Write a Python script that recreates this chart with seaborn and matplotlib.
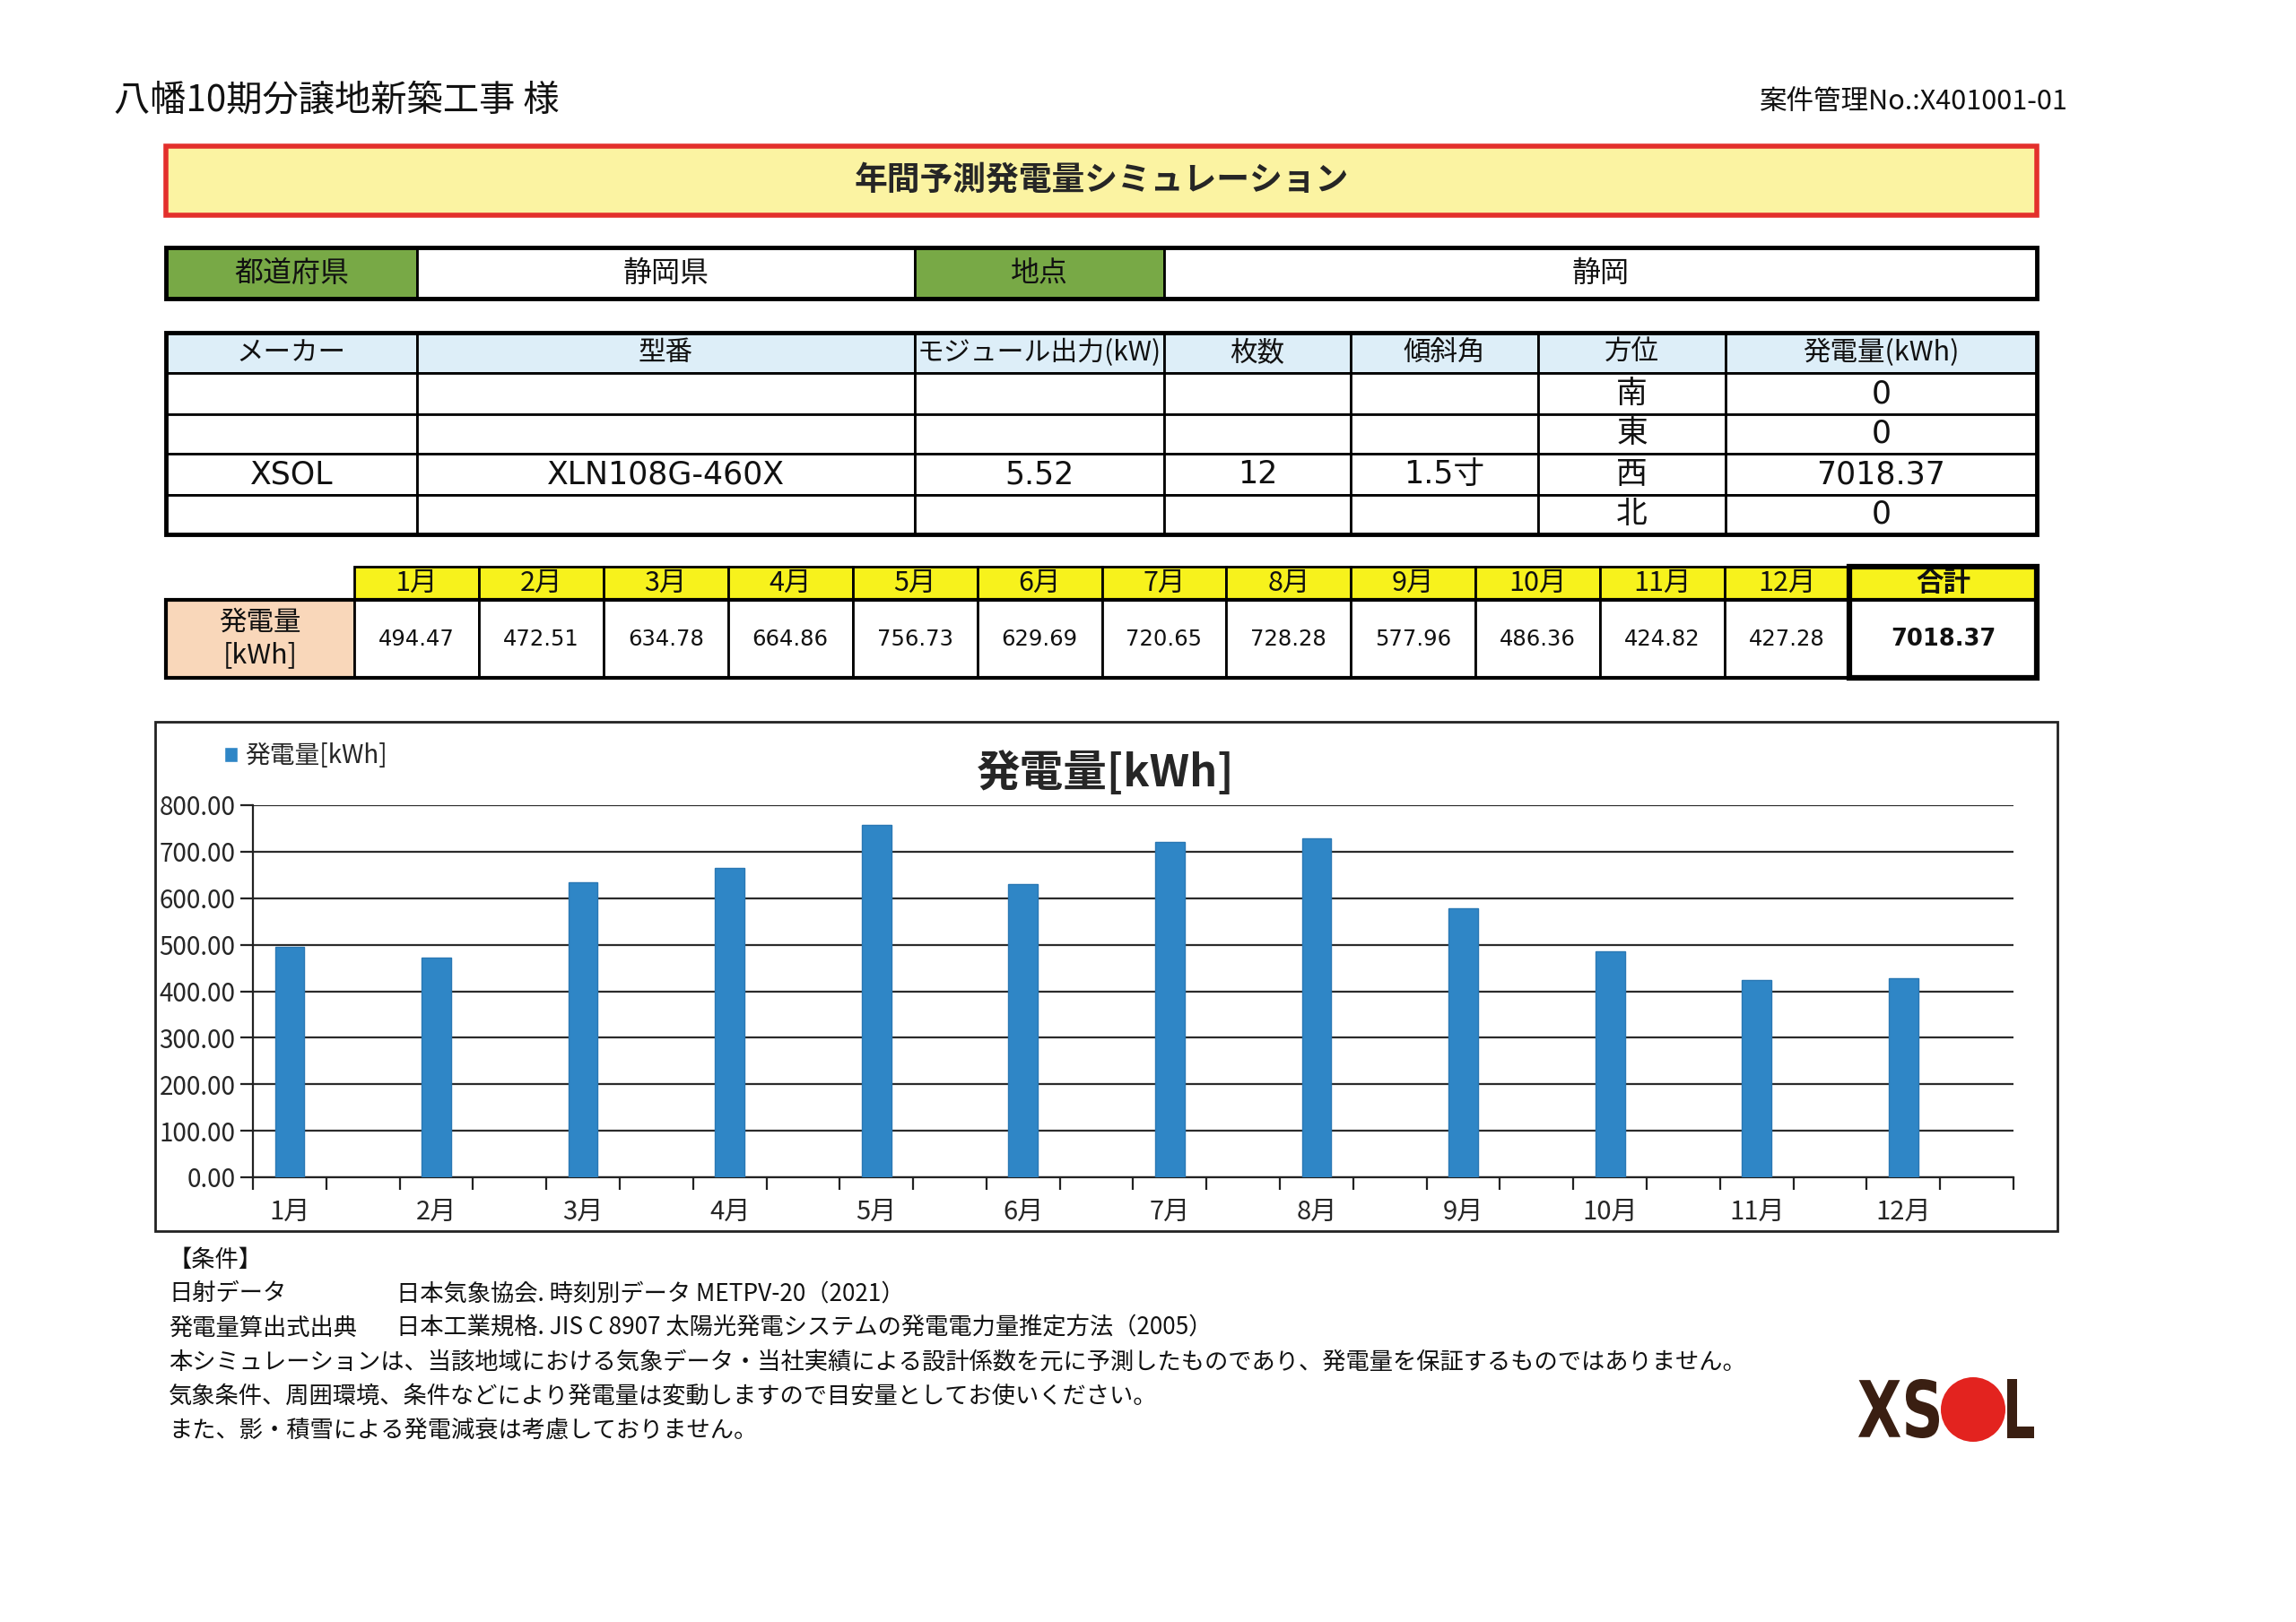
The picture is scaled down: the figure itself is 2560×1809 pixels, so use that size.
import matplotlib.pyplot as plt
import seaborn as sns
import numpy as np
from matplotlib.patches import Rectangle, Patch, PathPatch, Circle
from matplotlib.textpath import TextPath
from matplotlib.font_manager import FontProperties
from matplotlib.transforms import Affine2D

# ---- data ----
client = "八幡10期分譲地新築工事 様"
case_no = "案件管理No.:X401001-01"
sheet_title = "年間予測発電量シミュレーション"
prefecture = "静岡県"
location = "静岡"
module_cols = ["メーカー", "型番", "モジュール出力(kW)", "枚数", "傾斜角", "方位", "発電量(kWh)"]
maker = "XSOL"
model = "XLN108G-460X"
module_kw = "5.52"
panels = "12"
tilt = "1.5寸"
azimuths = ["南", "東", "西", "北"]
azimuth_kwh = ["0", "0", "7018.37", "0"]
months = ["1月", "2月", "3月", "4月", "5月", "6月", "7月", "8月", "9月", "10月", "11月", "12月"]
generation = [494.47, 472.51, 634.78, 664.86, 756.73, 629.69, 720.65, 728.28, 577.96, 486.36, 424.82, 427.28]
total = 7018.37
yticks = [0, 100, 200, 300, 400, 500, 600, 700, 800]
notes_head = "【条件】"
notes_pairs = [("日射データ", "日本気象協会. 時刻別データ METPV-20（2021）"),
               ("発電量算出式出典", "日本工業規格. JIS C 8907 太陽光発電システムの発電電力量推定方法（2005）")]
notes_lines = ["本シミュレーションは、当該地域における気象データ・当社実績による設計係数を元に予測したものであり、発電量を保証するものではありません。",
               "気象条件、周囲環境、条件などにより発電量は変動しますので目安量としてお使いください。",
               "また、影・積雪による発電減衰は考慮しておりません。"]

sns.set_theme(style="white")
plt.rcParams["font.family"] = ["Noto Sans CJK JP", "DejaVu Sans"]
LATIN = ["DejaVu Sans", "Noto Sans CJK JP"]

W, H = 2560, 1809
fig = plt.figure(figsize=(W / 100, H / 100), dpi=100)
fig.patch.set_facecolor("white")

page = fig.add_axes([0, 0, 1, 1])
page.set_xlim(0, W)
page.set_ylim(H, 0)
page.axis("off")


def cell(x0, x1, y0, y1, fill="white", text="", size=21, weight="normal", lw=2, family=None):
    page.add_patch(Rectangle((x0, y0), x1 - x0, y1 - y0, facecolor=fill,
                             edgecolor="black", lw=lw, zorder=1))
    if text:
        kw = {"family": family} if family else {}
        page.text((x0 + x1) / 2, (y0 + y1) / 2, text, ha="center", va="center",
                  fontsize=size, fontweight=weight, color="#111111", zorder=3, **kw)


# header
page.text(127, 112, client, fontsize=29, va="center", ha="left", color="#111111")
page.text(2306, 114, case_no, fontsize=22, va="center", ha="right", color="#111111")

# title banner
page.add_patch(Rectangle((185, 163), 2271 - 185, 240 - 163, facecolor="#FBF3A2",
                         edgecolor="#E3302C", lw=4))
page.text(1228, 201, sheet_title, fontsize=26.5, fontweight="bold", ha="center", va="center")

# prefecture / location row
green = "#78A946"
pref_cols = [185, 465, 1020, 1298, 2271]
pref_vals = ["都道府県", prefecture, "地点", location]
for i, t in enumerate(pref_vals):
    cell(pref_cols[i], pref_cols[i + 1], 276, 333,
         fill=green if i % 2 == 0 else "white", text=t, size=23)
page.add_patch(Rectangle((185, 276), 2271 - 185, 333 - 276, fill=False, edgecolor="black", lw=3.5, zorder=4))

# module table
mcols = [185, 465, 1020, 1298, 1506, 1715, 1924, 2271]
mrows = [371, 416, 462, 506, 552, 596]
for j, t in enumerate(module_cols):
    cell(mcols[j], mcols[j + 1], mrows[0], mrows[1], fill="#DDEEF8", text=t,
         size=21.5 if j == 2 else 22)
for r in range(4):
    vals = ["", "", "", "", "", azimuths[r], azimuth_kwh[r]]
    if r == 2:
        vals = [maker, model, module_kw, panels, tilt, azimuths[r], azimuth_kwh[r]]
    for j, t in enumerate(vals):
        if j == 5:
            cell(mcols[j], mcols[j + 1], mrows[r + 1], mrows[r + 2], text=t, size=25)
        else:
            cell(mcols[j], mcols[j + 1], mrows[r + 1], mrows[r + 2], text=t, size=25, family=LATIN)
page.add_patch(Rectangle((185, 371), 2271 - 185, 596 - 371, fill=False, edgecolor="black", lw=3.5, zorder=4))

# monthly table
edges = np.linspace(395, 2062, len(months) + 1)
cell(185, 395, 669, 756, fill="#F9D7BA", text="発電量\n[kWh]", size=22)
for i, m in enumerate(months):
    cell(edges[i], edges[i + 1], 632, 669, fill="#F7F21C", text=m, size=22)
    cell(edges[i], edges[i + 1], 669, 756, text=f"{generation[i]:.2f}", size=17.5, family=LATIN)
cell(2062, 2271, 632, 669, fill="#F7F21C", text="合計", size=22, weight="bold")
cell(2062, 2271, 669, 756, text=f"{total:.2f}", size=18.5, weight="bold", family=LATIN)
page.add_patch(Rectangle((2062, 632), 2271 - 2062, 756 - 632, fill=False, edgecolor="black", lw=4.5, zorder=4))
page.add_patch(Rectangle((185, 669), 2271 - 185, 756 - 669, fill=False, edgecolor="black", lw=3, zorder=4))

# chart frame
page.add_patch(Rectangle((173, 805), 2294 - 173, 1373 - 805, fill=False, edgecolor="#222222", lw=2))
page.text(1233, 862, "発電量[kWh]", fontsize=35, fontweight="bold", ha="center", va="center")

# bar chart
px0, px1, py0, py1 = 282, 2245, 898, 1313
ax = fig.add_axes([px0 / W, 1 - py1 / H, (px1 - px0) / W, (py1 - py0) / H])
bar_color = "#2F86C6"
sns.barplot(x=months, y=generation, color=bar_color, width=0.2, ax=ax,
            edgecolor="#2A78B4", linewidth=1, saturation=1, zorder=3)
ax.set_facecolor("none")
ax.set_xlim(-0.25, len(months) - 0.25)
ax.set_ylim(0, 800)
ax.set_yticks(yticks)
ax.set_yticklabels([f"{v:.2f}" for v in yticks], fontsize=20)
ax.yaxis.grid(True, color="#2b2b2b", lw=1.6, zorder=0)
ax.set_axisbelow(True)
ax.set_xticks(np.arange(-0.25, len(months) - 0.2, 0.5))
ax.set_xticklabels([])
ax.set_xticks(np.arange(len(months)), minor=True)
ax.set_xticklabels(months, minor=True, fontsize=21)
ax.tick_params(axis="x", which="major", direction="out", length=10, width=1.6, color="#222222", bottom=True)
ax.tick_params(axis="x", which="minor", length=0, pad=17)
ax.tick_params(axis="y", direction="out", length=10, width=1.6, color="#222222", left=True, pad=4)
for s in ["top", "right"]:
    ax.spines[s].set_visible(False)
for s in ["left", "bottom"]:
    ax.spines[s].set_color("#222222")
    ax.spines[s].set_linewidth(1.6)
ax.set_xlabel("")
ax.set_ylabel("")
ax.legend(handles=[Patch(facecolor=bar_color, label="発電量[kWh]")],
          loc="center left", bbox_to_anchor=(225 / W, 1 - 843 / H), bbox_transform=fig.transFigure,
          frameon=False, fontsize=20, handlelength=0.55, handleheight=0.55, handletextpad=0.3)

# conditions text
nsize = 18.9
page.text(188, 1405, notes_head, fontsize=nsize, va="center", color="#111111")
ny = 1443
for k, v in notes_pairs:
    page.text(188, ny, k, fontsize=nsize, va="center", color="#111111")
    page.text(442, ny, v, fontsize=nsize, va="center", color="#111111")
    ny += 38
for line in notes_lines:
    page.text(188, ny, line, fontsize=nsize, va="center", color="#111111")
    ny += 38

# XSOL logo
fp = FontProperties(family="DejaVu Sans", weight="bold")


def word_in_box(s, x0, x1, y0, y1, color):
    tp = TextPath((0, 0), s, size=100, prop=fp)
    ext = tp.get_extents()
    tr = Affine2D().translate(-ext.x0, -ext.y0).scale((x1 - x0) / ext.width, -(y1 - y0) / ext.height).translate(x0, y1)
    page.add_patch(PathPatch(tr.transform_path(tp), facecolor=color, lw=0))


brown = "#3A1F12"
word_in_box("XS", 2072, 2162, 1538, 1604, brown)
page.add_patch(Circle((2200, 1572), 36, facecolor="#E3231F", lw=0))
word_in_box("L", 2238, 2268, 1538, 1604, brown)

fig.savefig("out.png", dpi=100)
